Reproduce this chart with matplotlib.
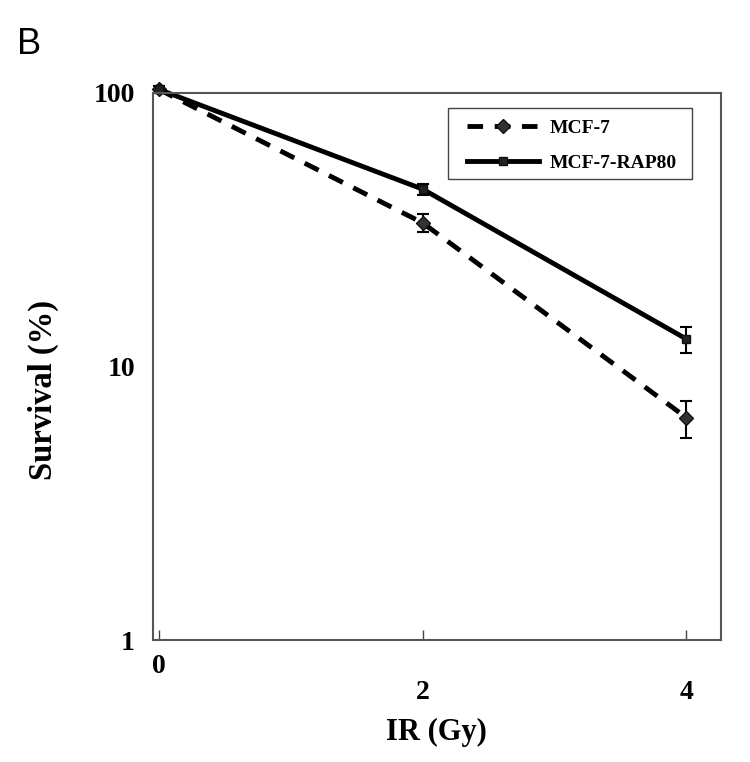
import matplotlib
matplotlib.use("Agg")
import matplotlib.pyplot as plt
from matplotlib.lines import Line2D
from matplotlib.patches import Rectangle

# -----------------------------
# data
# -----------------------------
dose = [0, 2, 4]
dose_labels = ["0", "2", "4"]

mcf7 = [103, 33.5, 6.5]
mcf7_err = [3, 2.5, 1.0]

rap80 = [103, 44.5, 12.6]
rap80_err = [3, 2.0, 1.4]

y_ticks = [1, 10, 100]
y_labels = ["1", "10", "100"]

serif = ["Liberation Serif", "DejaVu Serif"]
dash = (0, (3.2, 2.4))

fig = plt.figure(figsize=(7.5, 7.62), dpi=100)
ax = fig.add_axes([0.204, 0.160, 0.757, 0.718])

c1 = ax.errorbar(dose, mcf7, yerr=mcf7_err, color="black", lw=3.5,
                 ls=dash, marker="D", ms=7, mfc="#333333", mec="#111111",
                 ecolor="black", elinewidth=1.5, capsize=4.5, capthick=1.5)
c2 = ax.errorbar(dose, rap80, yerr=rap80_err, color="black", lw=3.5, ls="-",
                 marker="s", ms=6, mfc="#222222", mec="#111111",
                 ecolor="black", elinewidth=1.5, capsize=4.5, capthick=1.5)

# the first points sit just above the top of the frame
for cont in (c1, c2):
    for art in cont.get_children():
        art.set_clip_on(False)

ax.set_yscale("log")
ax.set_ylim(1, 100)
ax.set_xlim(-0.045, 4.26)

ax.set_yticks(y_ticks)
ax.set_yticklabels(y_labels)
ax.yaxis.set_minor_locator(plt.NullLocator())
ax.set_xticks(dose)
ax.set_xticklabels(dose_labels)

for lab in ax.get_xticklabels() + ax.get_yticklabels():
    lab.set_fontfamily(serif)
    lab.set_fontweight("bold")
    lab.set_fontsize(20)

ax.tick_params(axis="y", length=0, pad=13)
ax.tick_params(axis="x", direction="in", length=7, width=1, pad=29,
               color="#444444")
# the "0" sits higher than the other x labels in the original
ax.xaxis.get_major_ticks()[0].set_pad(10)

for sp in ax.spines.values():
    sp.set_color("#555555")
    sp.set_linewidth(1.5)

ax.set_xlabel("IR (Gy)", fontfamily=serif, fontweight="bold", fontsize=22,
              labelpad=9)
ax.set_ylabel("Survival (%)", fontfamily=serif, fontweight="bold",
              fontsize=23.5)
ax.yaxis.set_label_coords(-0.165, 0.457)

handles = [
    Line2D([], [], color="black", lw=3.5, ls=dash, marker="D", ms=7,
           mfc="#333333", mec="#111111"),
    Line2D([], [], color="black", lw=3.5, ls="-", marker="s", ms=6,
           mfc="#222222", mec="#111111"),
]
leg = ax.legend(handles, ["MCF-7", "MCF-7-RAP80"],
                loc="upper left", bbox_to_anchor=(0.5335, 0.972),
                prop={"family": serif, "weight": "bold", "size": 14},
                handlelength=3.7, frameon=False,
                borderpad=0.55, labelspacing=0.9, handletextpad=0.55,
                borderaxespad=0)

# legend box drawn on its own so the side padding can be wider
ax.add_patch(Rectangle((0.519, 0.843), 0.43, 0.1296,
                       transform=ax.transAxes, fill=False,
                       edgecolor="#444444", lw=1.0, zorder=5))

fig.text(0.022, 0.929, "B", fontfamily=["Liberation Sans", "DejaVu Sans"],
         fontsize=26)

fig.savefig("out.png", dpi=100)
